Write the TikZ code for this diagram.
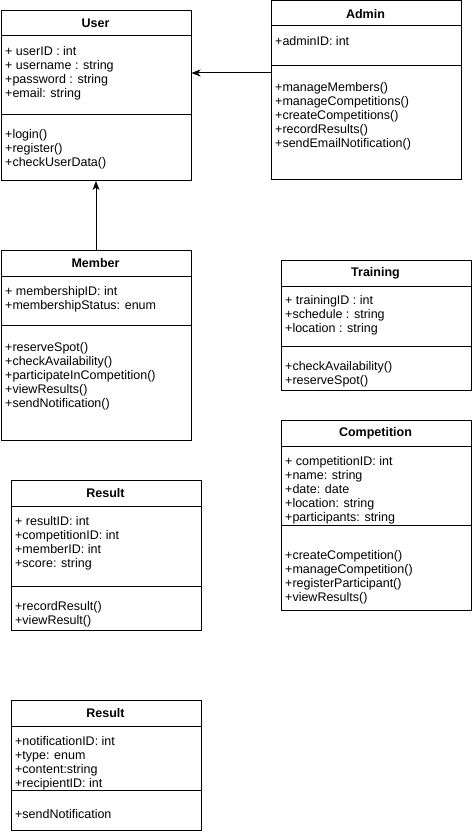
\documentclass[tikz,border=0pt]{standalone}
\usepackage{fontspec}
\setmainfont{Liberation Sans}
\usetikzlibrary{arrows.meta}
\begin{document}
\begin{tikzpicture}[x=1pt,y=-1pt,
  box/.style={draw=black,line width=1pt,fill=white,anchor=north west,inner sep=0pt},
  ttl/.style={font=\fontsize{12.5}{14}\selectfont\bfseries,inner sep=0pt},
  txt/.style={font=\fontsize{12.5}{14}\selectfont,anchor=base west,inner sep=0pt},
  sep/.style={line width=1pt},
  inh/.style={line width=1pt,-{Stealth[length=9pt,width=7pt,inset=2.5pt]}}]
\useasboundingbox (0,0) rectangle (471,834);

% ---------- User ----------
\node[box,minimum width=190pt,minimum height=170pt] (user) at (0.5,10) {};
\node[ttl] (user-t) at (95.5,23.5) {User};
\draw[sep] (user.west |- 0,36) -- (user.east |- 0,36);
\draw[sep] (user.west |- 0,115) -- (user.east |- 0,115);
\foreach \s [count=\i] in {{+ userID : int},{+ username : string},{+password : string},{+email: string}}
  \node[txt] (user-a\i) at (5,55.3+14*\i-14) {\s};
\foreach \s [count=\i] in {{+login()},{+register()},{+checkUserData()}}
  \node[txt] (user-m\i) at (5,138.3+14*\i-14) {\s};

% ---------- Admin ----------
\node[box,minimum width=190pt,minimum height=179pt] (admin) at (270.5,0.5) {};
\node[ttl] (admin-t) at (365.5,14.5) {Admin};
\draw[sep] (admin.west |- 0,26) -- (admin.east |- 0,26);
\draw[sep] (admin.west |- 0,66) -- (admin.east |- 0,66);
\node[txt] (admin-a1) at (275,45.3) {+adminID: int};
\foreach \s [count=\i] in {{+manageMembers()},{+manageCompetitions()},{+createCompetitions()},{+recordResults()},{+sendEmailNotification()}}
  \node[txt] (admin-m\i) at (275,91.3+14*\i-14) {\s};

% ---------- Member ----------
\node[box,minimum width=190pt,minimum height=190pt] (member) at (0.5,250) {};
\node[ttl] (member-t) at (95.5,263.5) {Member};
\draw[sep] (member.west |- 0,276) -- (member.east |- 0,276);
\draw[sep] (member.west |- 0,325) -- (member.east |- 0,325);
\foreach \s [count=\i] in {{+ membershipID: int},{+membershipStatus: enum}}
  \node[txt] (member-a\i) at (5,295.3+14*\i-14) {\s};
\foreach \s [count=\i] in {{+reserveSpot()},{+checkAvailability()},{+participateInCompetition()},{+viewResults()},{+sendNotification()}}
  \node[txt] (member-m\i) at (5,351.3+14*\i-14) {\s};

% ---------- Training ----------
\node[box,minimum width=190pt,minimum height=130pt] (training) at (280.5,260) {};
\node[ttl] (training-t) at (375.5,273.5) {Training};
\draw[sep] (training.west |- 0,286) -- (training.east |- 0,286);
\draw[sep] (training.west |- 0,346) -- (training.east |- 0,346);
\foreach \s [count=\i] in {{+ trainingID : int},{+schedule : string},{+location : string}}
  \node[txt] (training-a\i) at (285,304.3+14*\i-14) {\s};
\foreach \s [count=\i] in {{+checkAvailability()},{+reserveSpot()}}
  \node[txt] (training-m\i) at (285,370.3+14*\i-14) {\s};

% ---------- Competition ----------
\node[box,minimum width=190pt,minimum height=190pt] (comp) at (280.5,420) {};
\node[ttl] (comp-t) at (375.5,433.5) {Competition};
\draw[sep] (comp.west |- 0,446) -- (comp.east |- 0,446);
\draw[sep] (comp.west |- 0,525) -- (comp.east |- 0,525);
\foreach \s [count=\i] in {{+ competitionID: int},{+name: string},{+date: date},{+location: string},{+participants: string}}
  \node[txt] (comp-a\i) at (285,465.3+14*\i-14) {\s};
\foreach \s [count=\i] in {{+createCompetition()},{+manageCompetition()},{+registerParticipant()},{+viewResults()}}
  \node[txt] (comp-m\i) at (285,559+14*\i-14) {\s};

% ---------- Result ----------
\node[box,minimum width=190pt,minimum height=150pt] (result) at (10.5,480) {};
\node[ttl] (result-t) at (105.5,493.5) {Result};
\draw[sep] (result.west |- 0,506) -- (result.east |- 0,506);
\draw[sep] (result.west |- 0,586) -- (result.east |- 0,586);
\foreach \s [count=\i] in {{+ resultID: int},{+competitionID: int},{+memberID: int},{+score: string}}
  \node[txt] (result-a\i) at (15,525.3+14*\i-14) {\s};
\foreach \s [count=\i] in {{+recordResult()},{+viewResult()}}
  \node[txt] (result-m\i) at (15,610.3+14*\i-14) {\s};

% ---------- Result (notification) ----------
\node[box,minimum width=190pt,minimum height=130pt] (notif) at (10.5,700) {};
\node[ttl] (notif-t) at (105.5,713.5) {Result};
\draw[sep] (notif.west |- 0,726) -- (notif.east |- 0,726);
\draw[sep] (notif.west |- 0,790) -- (notif.east |- 0,790);
\foreach \s [count=\i] in {{+notificationID: int},{+type: enum},{+content:string},{+recipientID: int}}
  \node[txt] (notif-a\i) at (15,745.3+14*\i-14) {\s};
\node[txt] (notif-m1) at (15,818) {+sendNotification};

% ---------- connectors ----------
\coordinate (ay) at (0,73);
\draw[inh] (admin.west |- ay) -- (user.east |- ay);
\draw[inh] (member.north) -- (user.south);
\end{tikzpicture}
\end{document}
